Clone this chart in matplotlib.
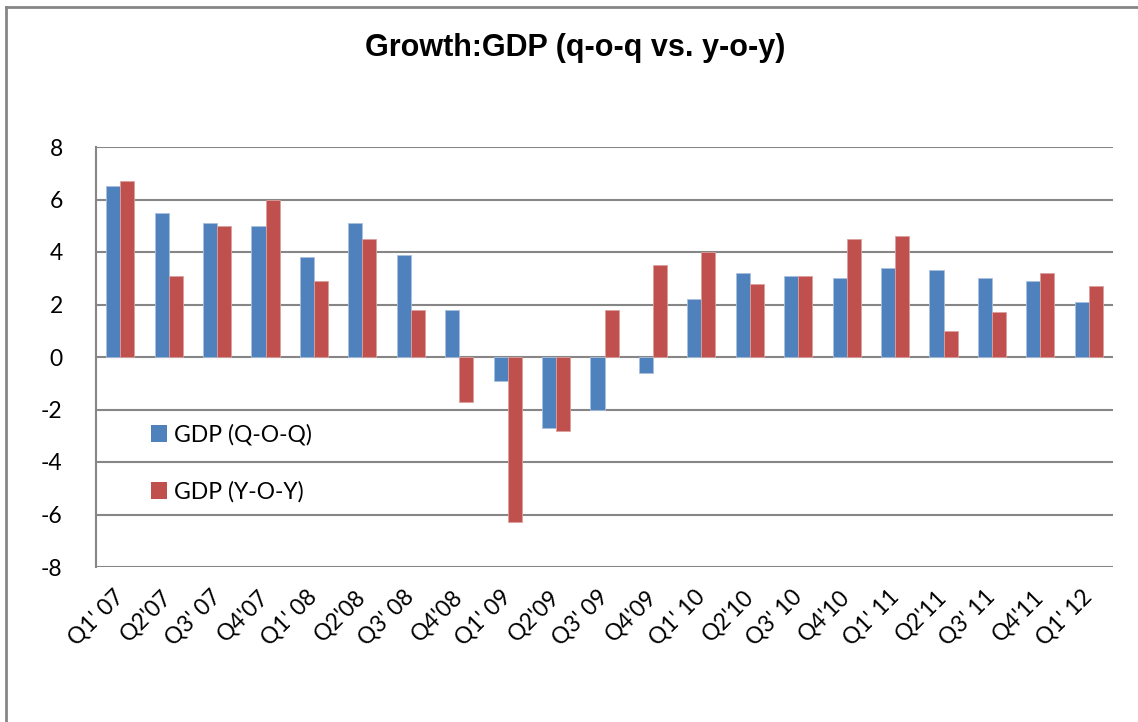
#!/usr/bin/env python3
"""Growth: GDP q-o-q vs y-o-y, grouped bars, Excel-style look."""
import matplotlib

matplotlib.use("Agg")
import matplotlib.pyplot as plt  # noqa: E402
import numpy as np  # noqa: E402
from matplotlib.lines import Line2D  # noqa: E402
from matplotlib.patches import Patch  # noqa: E402

quarters = [
    "Q1' 07", "Q2'07", "Q3' 07", "Q4'07", "Q1' 08", "Q2'08", "Q3' 08",
    "Q4'08", "Q1' 09", "Q2'09", "Q3' 09", "Q4'09", "Q1' 10", "Q2'10",
    "Q3' 10", "Q4'10", "Q1' 11", "Q2'11", "Q3' 11", "Q4'11", "Q1' 12",
]
gdp_qoq = [6.5, 5.5, 5.1, 5.0, 3.8, 5.1, 3.9, 1.8, -0.9, -2.7, -2.0,
           -0.6, 2.2, 3.2, 3.1, 3.0, 3.4, 3.3, 3.0, 2.9, 2.1]
gdp_yoy = [6.7, 3.1, 5.0, 6.0, 2.9, 4.5, 1.8, -1.7, -6.3, -2.8, 1.8,
           3.5, 4.0, 2.8, 3.1, 4.5, 4.6, 1.0, 1.7, 3.2, 2.7]
y_ticks = [-8, -6, -4, -2, 0, 2, 4, 6, 8]

BLUE = "#4F81BD"
RED = "#C0504D"
GRID = "#868686"

plt.rcParams["axes.unicode_minus"] = False
plt.rcParams["font.family"] = ["Lato", "DejaVu Sans"]

W, H = 1138, 722
fig = plt.figure(figsize=(W / 100, H / 100), dpi=100)
ax = fig.add_axes([96 / W, 1 - 567 / H, (1113 - 96) / W, (567 - 147) / H])

x = np.arange(len(quarters))
bw = 0.29
ax.bar(x - bw / 2, gdp_qoq, bw, color=BLUE, edgecolor="#a9c0de", linewidth=0.6, zorder=3)
ax.bar(x + bw / 2, gdp_yoy, bw, color=RED, edgecolor="#dc9f9d", linewidth=0.6, zorder=3)

ax.set_xlim(-0.5, len(quarters) - 0.5)
ax.set_ylim(-8, 8)
ax.set_yticks(y_ticks)
ax.set_yticklabels([str(v) for v in y_ticks], fontsize=16.5)
ax.grid(axis="y", color=GRID, linewidth=1.5, zorder=0)
ax.set_axisbelow(True)

ax.set_xticks(x)
ax.set_xticklabels(quarters, fontsize=16.5, rotation=45, ha="right", va="center",
                   rotation_mode="anchor")
ax.tick_params(axis="x", length=0, pad=19)
ax.tick_params(axis="y", length=0, pad=24)

for side in ("top", "right", "bottom"):
    ax.spines[side].set_visible(False)
ax.spines["left"].set_color(GRID)
ax.spines["left"].set_linewidth(1.5)

handles = [Patch(facecolor=BLUE, edgecolor="none"), Patch(facecolor=RED, edgecolor="none")]
ax.legend(handles, ["GDP (Q-O-Q)", "GDP (Y-O-Y)"], loc="upper left",
          bbox_to_anchor=(135 / W, 1 - 408 / H), bbox_transform=fig.transFigure,
          frameon=False, fontsize=16.5, labelspacing=1.55, handlelength=0.7,
          handleheight=0.8, handletextpad=0.3, borderpad=0.2)

fig.text(575 / W, 1 - 48 / H, "Growth:GDP (q-o-q vs. y-o-y)", ha="center", va="center",
         fontsize=22, fontweight="bold", family=["Liberation Sans", "DejaVu Sans"])

# outer chart frame: only top and left edges visible in the crop
fig.add_artist(Line2D([6 / W, 1], [1 - 7 / H, 1 - 7 / H], transform=fig.transFigure,
                      color=GRID, linewidth=2))
fig.add_artist(Line2D([6 / W, 6 / W], [0, 1 - 7 / H], transform=fig.transFigure,
                      color=GRID, linewidth=2))

fig.savefig("out.png", dpi=100)
